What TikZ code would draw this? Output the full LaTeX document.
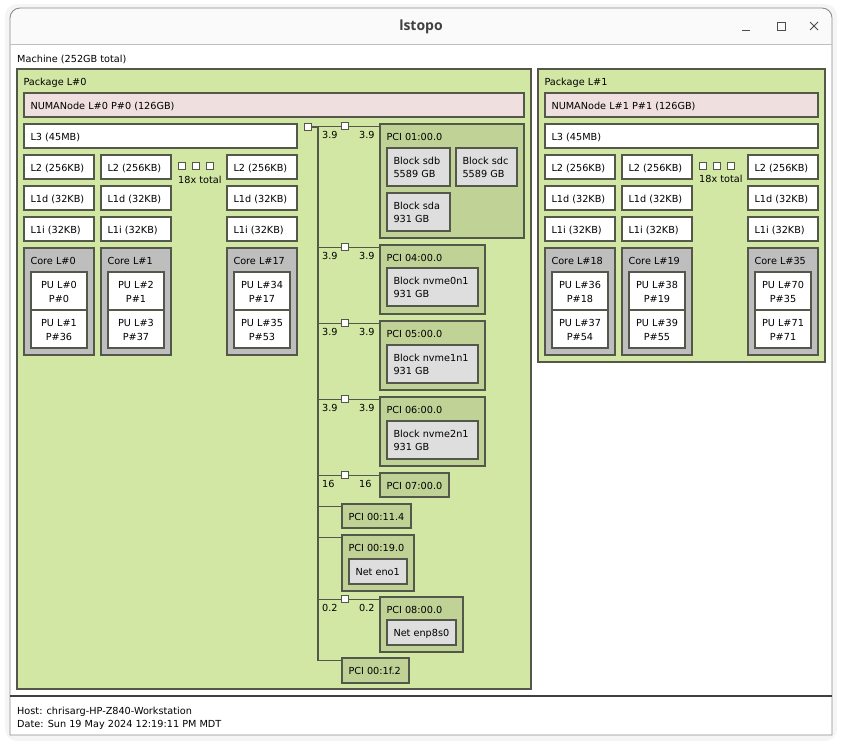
\documentclass[tikz,border=0pt]{standalone}
\usepackage{fontspec}
\setmainfont{DejaVu Sans}
\newfontfamily\titlefont{Open Sans}
\usetikzlibrary{positioning,fit}
\definecolor{pkgc}{RGB}{210,231,164}
\definecolor{numac}{RGB}{239,223,222}
\definecolor{corec}{RGB}{190,190,190}
\definecolor{pcic}{RGB}{192,210,150}
\definecolor{devc}{RGB}{222,222,222}
\definecolor{edgec}{RGB}{84,88,74}
\definecolor{barc}{RGB}{250,250,250}
\tikzset{obj/.style={draw=edgec,line width=1.4pt,inner sep=0pt},
 txt/.style={inner sep=0pt,align=left,anchor=base west},
 tl/.style={label={[txt,xshift=7pt,yshift=-17pt]north west:{#1}}},
 tltwo/.style={label={[txt,xshift=7pt,yshift=-30.5pt]north west:{#1}}},
 pkg/.style={obj,fill=pkgc},numa/.style={obj,fill=numac},
 cache/.style={obj,fill=white},core/.style={obj,fill=corec},
 pu/.style={obj,fill=white,label={[txt,anchor=base,align=center,yshift=-31pt]north:{#1}}},
 pci/.style={obj,fill=pcic},dev/.style={obj,fill=devc},
 dot/.style={obj,fill=white,line width=1.2pt,minimum size=7pt},
 link/.style={draw=edgec,line width=1.4pt},
 btn/.style={draw=black!70,line width=0.9pt}}
\begin{document}
\fontsize{9.7}{13.5}\selectfont
\begin{tikzpicture}[x=1pt,y=-1pt]
\useasboundingbox (0,0) rectangle (842,745);
% window frame
\fill[black!4,rounded corners=12pt] (5,4) rectangle (837,741);
\fill[white] (10,735) -- (10,18) arc[start angle=180,end angle=90,radius=10pt]
 -- (822,8) arc[start angle=90,end angle=0,radius=10pt] -- (832,735) -- cycle;
\fill[barc] (10,44) -- (10,18) arc[start angle=180,end angle=90,radius=10pt]
 -- (822,8) arc[start angle=90,end angle=0,radius=10pt] -- (832,44) -- cycle;
\draw[black!45,line width=0.9pt] (10,735) -- (10,18) arc[start angle=180,end angle=90,radius=10pt]
 -- (822,8) arc[start angle=90,end angle=0,radius=10pt] -- (832,735) -- cycle;
\draw[black!25] (10,44.5) -- (832,44.5);
\node[font=\titlefont\fontsize{14}{16}\selectfont\bfseries,text=black!75] (title) at (421,27) {lstopo};
\draw[btn] (742,30) -- (750,30);
\draw[btn] (777,22) rectangle (785,30);
\draw[btn] (810,22) -- (818,30) (818,22) -- (810,30);
\node[txt] (mach) at (17,62) {Machine (252GB total)};
% packages
\node[pkg,fit={(17,69)(531,689)},tl={Package L\#0}] (pkg0) {};
\node[pkg,fit={(538,69)(825,362)},tl={Package L\#1}] (pkg1) {};
\node[numa,fit={(24,93)(524,117)},tl={NUMANode L\#0 P\#0 (126GB)}] (numa0) {};
\node[numa,fit={(545,93)(818,117)},tl={NUMANode L\#1 P\#1 (126GB)}] (numa1) {};
\node[cache,fit={(24,124)(297,148)},tl={L3 (45MB)}] (lthree0) {};
\node[cache,fit={(545,124)(818,148)},tl={L3 (45MB)}] (lthree1) {};
\foreach \n/\x/\c/\pa/\qa/\pb/\qb in {0/24/0/0/0/1/36,1/101/1/2/1/3/37,2/227/17/34/17/35/53,
 3/545/18/36/18/37/54,4/622/19/38/19/39/55,5/748/35/70/35/71/71}{
 \pgfmathsetmacro\xr{\x+70}
 \pgfmathsetmacro\ul{\x+7}
 \pgfmathsetmacro\ur{\x+63}
 \node[cache,fit={(\x,155)(\xr,179)},tl={L2 (256KB)}] (ltwo\n) {};
 \node[cache,fit={(\x,186)(\xr,210)},tl={L1d (32KB)}] (lod\n) {};
 \node[cache,fit={(\x,217)(\xr,241)},tl={L1i (32KB)}] (loi\n) {};
 \node[core,fit={(\x,248)(\xr,355)},tl={Core L\#\c}] (core\n) {};
 \node[pu={PU L\#\pa\\P\#\qa},fit={(\ul,272)(\ur,310)}] (pu\n a) {};
 \node[pu={PU L\#\pb\\P\#\qb},fit={(\ul,310)(\ur,348)}] (pu\n b) {};
}
\foreach \s in {0,1,2}{
 \node[dot] (gap0\s) at (182+14*\s,166) {};
 \node[dot] (gap1\s) at (703+14*\s,166) {};
}
\node[txt] (tot0) at (178,183) {18x total};
\node[txt] (tot1) at (699,182) {18x total};
% PCI devices
\node[pci,fit={(380,124)(524,238)},tl={PCI 01:00.0}] (pci1) {};
\node[dev,fit={(387,148)(450,186)},tltwo={Block sdb\\5589 GB}] (sdb) {};
\node[dev,fit={(456,148)(517,186)},tltwo={Block sdc\\5589 GB}] (sdc) {};
\node[dev,fit={(387,193)(450,231)},tltwo={Block sda\\931 GB}] (sda) {};
\node[pci,fit={(380,245)(485,314)},tl={PCI 04:00.0}] (pci4) {};
\node[dev,fit={(387,268)(478,306)},tltwo={Block nvme0n1\\931 GB}] (nvme0) {};
\node[pci,fit={(380,321)(485,390)},tl={PCI 05:00.0}] (pci5) {};
\node[dev,fit={(387,345)(478,383)},tltwo={Block nvme1n1\\931 GB}] (nvme1) {};
\node[pci,fit={(380,397)(485,466)},tl={PCI 06:00.0}] (pci6) {};
\node[dev,fit={(387,421)(478,459)},tltwo={Block nvme2n1\\931 GB}] (nvme2) {};
\node[pci,fit={(380,473)(449,497)},tl={PCI 07:00.0}] (pci7) {};
\node[pci,fit={(342,504)(411,528)},tl={PCI 00:11.4}] (pcia) {};
\node[pci,fit={(342,535)(414,591)},tl={PCI 00:19.0}] (pcib) {};
\node[dev,fit={(349,559)(407,584)},tl={Net eno1}] (eno) {};
\node[pci,fit={(380,597)(463,652)},tl={PCI 08:00.0}] (pci8) {};
\node[dev,fit={(387,620)(456,645)},tl={Net enp8s0}] (enp) {};
\node[pci,fit={(342,658)(409,683)},tl={PCI 00:1f.2}] (pcic) {};
% bus
\coordinate (bus) at (318,127);
\coordinate (brcol) at (345,127);
\coordinate (jc) at ([yshift=-3pt]pcic.north west);
\draw[link] (308,127) -- (bus) |- (jc);
\node[dot] (hb) at (308,127) {};
\foreach \j in {a,b}{
 \coordinate (j\j) at ([yshift=-3pt]pci\j.north west);
 \draw[link] (bus |- j\j) -- (j\j);
}
\foreach \b/\s in {1/3.9,4/3.9,5/3.9,6/3.9,7/16,8/0.2}{
 \coordinate (j\b) at ([yshift=-3pt]pci\b.north west);
 \draw[link] (bus |- j\b) -- (j\b);
 \node[dot] (br\b) at (brcol |- j\b) {};
 \node[txt] (spl\b) at ([shift={(-23pt,-12pt)}]br\b.center) {\s};
 \node[txt] (spr\b) at ([shift={(14pt,-12pt)}]br\b.center) {\s};
}
% legend
\draw[black!75,line width=1.4pt] (10,696) -- (832,696);
\node[txt] (host) at (17,714) {Host: chrisarg-HP-Z840-Workstation};
\node[txt] (date) at (17,727) {Date: Sun 19 May 2024 12:19:11 PM MDT};
\end{tikzpicture}
\end{document}
